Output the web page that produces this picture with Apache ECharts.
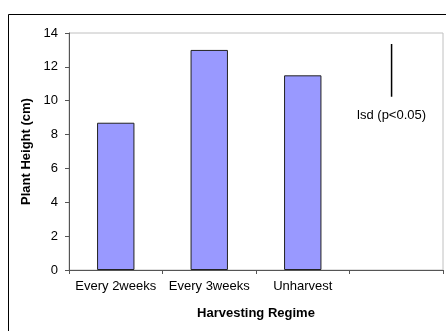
<!DOCTYPE html>
<html>
<head>
<meta charset="utf-8">
<script src="https://cdn.jsdelivr.net/npm/echarts@6/dist/echarts.min.js"></script>
<style>html,body{margin:0;padding:0;background:#fff;}#c{width:446px;height:331px;}</style>
</head>
<body>
<div id="c"></div>
<script>
var categories = ['Every 2weeks', 'Every 3weeks', 'Unharvest', ''];
var heights = [8.7, 13.0, 11.5, null];
var yTicks = [0, 2, 4, 6, 8, 10, 12, 14];
var lsdX = 3.45;
var lsdTop = 13.35;
var lsdBottom = 10.24;
var lsdLabel = 'lsd (p<0.05)';

var chart = echarts.init(document.getElementById('c'), null, {renderer: 'canvas'});
var font = 'Liberation Sans, Arial, sans-serif';
chart.setOption({
  animation: false,
  backgroundColor: '#fff',
  graphic: [{
    type: 'rect', left: 6, top: 12, shape: {width: 460, height: 340},
    style: {fill: 'none', stroke: '#000', lineWidth: 1}, silent: true, z: -10
  }],
  grid: {left: 69, right: 3, top: 33, bottom: 61, show: true, borderColor: '#c0c0c0', borderWidth: 1, backgroundColor: 'transparent'},
  xAxis: [{
    type: 'category', data: categories,
    axisLine: {lineStyle: {color: '#555', width: 1}},
    axisTick: {show: true, length: 4, lineStyle: {color: '#555'}},
    axisLabel: {color: '#000', fontSize: 13, fontFamily: font, margin: 10, interval: 0},
    name: 'Harvesting Regime', nameLocation: 'middle', nameGap: 37,
    nameTextStyle: {color: '#000', fontSize: 13, fontWeight: 'bold', fontFamily: font},
    splitLine: {show: false}
  }, {
    type: 'value', min: 0, max: 4, show: false
  }],
  yAxis: {
    type: 'value', min: yTicks[0], max: yTicks[yTicks.length - 1], interval: 2,
    axisLine: {show: true, lineStyle: {color: '#555', width: 1}},
    axisTick: {show: true, length: 4, lineStyle: {color: '#555'}},
    axisLabel: {color: '#000', fontSize: 13, fontFamily: font, margin: 11},
    splitLine: {show: false},
    name: 'Plant Height (cm)', nameLocation: 'middle', nameGap: 35, nameRotate: 90,
    nameTextStyle: {color: '#000', fontSize: 13, fontWeight: 'bold', fontFamily: font}
  },
  series: [{
    type: 'bar', data: heights, barWidth: '40%', xAxisIndex: 0,
    itemStyle: {color: '#9999ff', borderColor: '#222', borderWidth: 1}
  }, {
    type: 'line', xAxisIndex: 1, symbol: 'circle', symbolSize: 0, showSymbol: true,
    lineStyle: {color: '#000', width: 1.5},
    itemStyle: {color: 'transparent'},
    data: [
      {value: [lsdX, lsdTop]},
      {value: [lsdX, lsdBottom], label: {show: true, formatter: lsdLabel, position: 'bottom', distance: 12, color: '#000', fontSize: 13, fontFamily: font}}
    ]
  }]
});
</script>
</body>
</html>
